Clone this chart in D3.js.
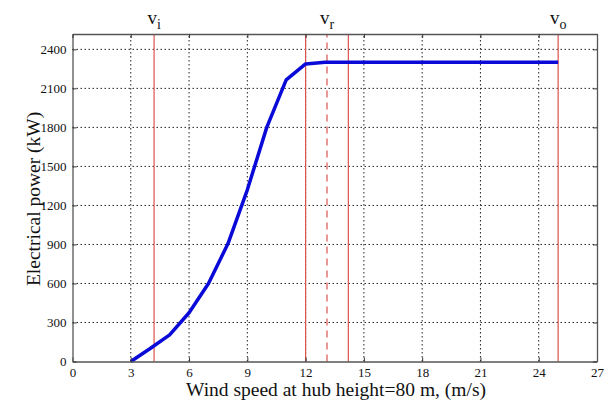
<!doctype html>
<html>
<head>
<meta charset="utf-8">
<title>Power curve</title>
<script src="https://d3js.org/d3.v7.min.js"></script>
<style>
  body { margin:0; background:#fff; }
  svg text { font-family: "Liberation Serif", "Times New Roman", serif; }
</style>
</head>
<body>
<div id="chart"></div>
<script>
// wind speed (m/s) and power (kW)
var speed = [3, 4, 5, 6, 7, 8, 9, 10, 11, 12, 13, 14, 15, 16, 17, 18, 19, 20, 21, 22, 23, 24, 25];
var power = [0, 100, 205, 375, 600, 905, 1320, 1800, 2165, 2288, 2300, 2300, 2300, 2300, 2300, 2300, 2300, 2300, 2300, 2300, 2300, 2300, 2300];
var xTicks = [0, 3, 6, 9, 12, 15, 18, 21, 24, 27];
var yTicks = [0, 300, 600, 900, 1200, 1500, 1800, 2100, 2400];
// marker lines: speed, dashed?, label subscript
var markSpeed = [4.2, 12, 13.1, 14.2, 25];
var markDash = [false, false, true, false, false];
var markLabel = ["i", "", "r", "", "o"];

var width = 609, height = 405;
var padding = {left: 72.5, right: 12, top: 34, bottom: 43.5};

var svg = d3.select('#chart').append('svg')
  .attr('width', width).attr('height', height);

var x = d3.scaleLinear().domain([0, 27]).range([padding.left, width - padding.right]);
var y = d3.scaleLinear().domain([0, 2518]).range([height - padding.bottom, padding.top]);

//网格
svg.append('g').selectAll('line').data(xTicks.slice(1, -1)).enter().append('line')
  .attr('x1', d => x(d)).attr('x2', d => x(d))
  .attr('y1', y.range()[0]).attr('y2', y.range()[1])
  .attr('stroke', '#222').attr('stroke-width', 1).attr('stroke-dasharray', '1.5,2.5');
svg.append('g').selectAll('line').data(yTicks.slice(1)).enter().append('line')
  .attr('x1', x.range()[0]).attr('x2', x.range()[1])
  .attr('y1', d => y(d)).attr('y2', d => y(d))
  .attr('stroke', '#222').attr('stroke-width', 1).attr('stroke-dasharray', '1.5,2.5');

//红色竖线
svg.append('g').selectAll('line').data(markSpeed).enter().append('line')
  .attr('x1', d => x(d)).attr('x2', d => x(d))
  .attr('y1', y.range()[0]).attr('y2', y.range()[1])
  .attr('stroke', '#d9534f').attr('stroke-width', 1.2)
  .attr('stroke-dasharray', (d, i) => markDash[i] ? '7,5' : null);

//曲线
var line = d3.line().x((d, i) => x(speed[i])).y(d => y(d));
svg.append('path').datum(power)
  .attr('d', line).attr('fill', 'none')
  .attr('stroke', '#0a0ad8').attr('stroke-width', 3.5)
  .attr('stroke-linejoin', 'round');

//坐标轴
var axB = svg.append('g').attr('transform', 'translate(0,' + y.range()[0] + ')')
  .call(d3.axisBottom(x).tickValues(xTicks).tickFormat(d3.format('d')).tickSizeInner(-4).tickSizeOuter(0).tickPadding(6));
var axL = svg.append('g').attr('transform', 'translate(' + x.range()[0] + ',0)')
  .call(d3.axisLeft(y).tickValues(yTicks).tickFormat(d3.format('d')).tickSizeInner(-4).tickSizeOuter(0).tickPadding(6));
var axT = svg.append('g').attr('transform', 'translate(0,' + y.range()[1] + ')')
  .call(d3.axisTop(x).tickValues(xTicks).tickSizeInner(-4).tickSizeOuter(0));
var axR = svg.append('g').attr('transform', 'translate(' + x.range()[1] + ',0)')
  .call(d3.axisRight(y).tickValues(yTicks).tickSizeInner(-4).tickSizeOuter(0));
axT.selectAll('text').remove();
axR.selectAll('text').remove();
[axB, axL, axT, axR].forEach(function(a) {
  a.attr('font-family', null);
  a.selectAll('path').attr('stroke', '#555').attr('stroke-width', 1.3);
  a.selectAll('line').attr('stroke', '#333');
  a.selectAll('text').attr('font-size', 13).attr('fill', '#111');
});

//标签
svg.selectAll('.vlab').data(markSpeed.filter((d, i) => markLabel[i])).enter()
  .append('text')
  .attr('x', d => x(d)).attr('y', 24)
  .attr('text-anchor', 'middle').attr('font-size', 19).attr('fill', '#111')
  .each(function(d) {
    var lab = markLabel[markSpeed.indexOf(d)];
    var t = d3.select(this);
    t.append('tspan').text('v');
    t.append('tspan').attr('font-size', 14).attr('dy', 5).text(lab);
  });

svg.append('text')
  .attr('x', 336).attr('y', 396)
  .attr('text-anchor', 'middle').attr('font-size', 19.5).attr('fill', '#111')
  .text('Wind speed at hub height=80 m, (m/s)');

svg.append('text')
  .attr('transform', 'translate(' + 40 + ',' + y(1250) + ') rotate(-90)')
  .attr('text-anchor', 'middle').attr('font-size', 19.5).attr('fill', '#111')
  .text('Electrical power (kW)');
</script>
</body>
</html>
